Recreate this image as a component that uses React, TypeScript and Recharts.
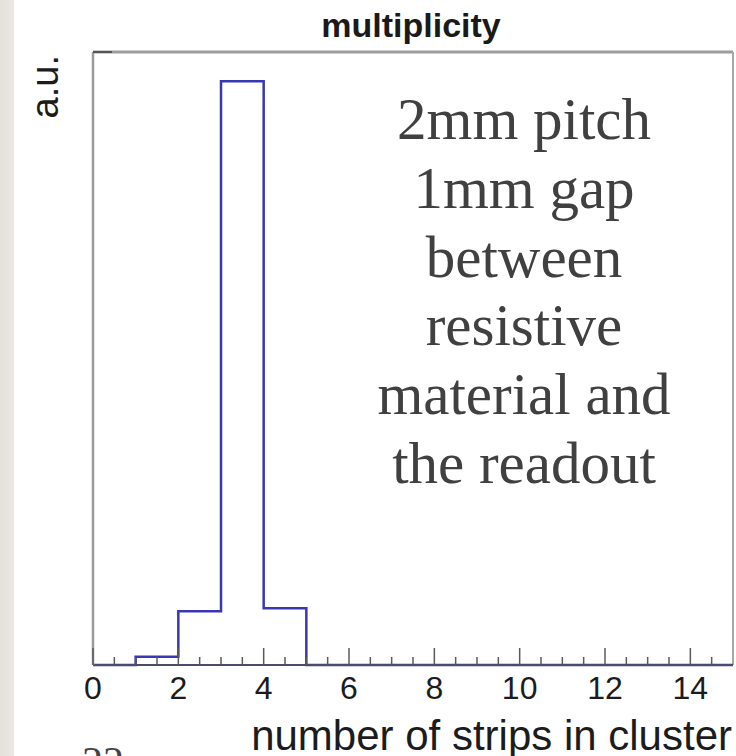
import React from 'react'
import { ComposedChart, Line, ReferenceLine, XAxis, YAxis } from 'recharts'

// histogram of cluster multiplicity, one value per strip-count bin [n, n+1)
const BIN_EDGES = [0, 1, 2, 3, 4, 5, 6, 7, 8, 9, 10, 11, 12, 13, 14, 15]
const BIN_CONTENT = [0, 0.014, 0.092, 1.0, 0.097, 0, 0, 0, 0, 0, 0, 0, 0, 0, 0]
const X_MAX = 15
const Y_MAX = 1.05

const X_TICKS = [
  0, 0.5, 1, 1.5, 2, 2.5, 3, 3.5, 4, 4.5, 5, 5.5, 6, 6.5, 7, 7.5,
  8, 8.5, 9, 9.5, 10, 10.5, 11, 11.5, 12, 12.5, 13, 13.5, 14, 14.5,
]
const X_TICK_LABELS = [0, 2, 4, 6, 8, 10, 12, 14]

const TITLE = 'multiplicity'
const X_TITLE = 'number of strips in cluster'
const Y_TITLE = 'a.u.'
const NOTE_LINES = [
  '2mm pitch',
  '1mm gap',
  'between',
  'resistive',
  'material and',
  'the readout',
]
const PAGE_NUMBER = '22'

const SANS = '"Liberation Sans", Arial, Helvetica, sans-serif'
const SERIF = '"Liberation Serif", "Times New Roman", serif'
const HIST_BLUE = '#3838b4'

const histData = BIN_EDGES.map((edge, i) => ({
  edge,
  content: BIN_CONTENT[i] ?? 0,
}))

function XTick(props: any) {
  const { x, y, payload } = props
  const value = payload.value as number
  const major = X_TICK_LABELS.includes(value)
  return (
    <g>
      <line x1={x} x2={x} y1={y} y2={y - (major ? 17 : 8)} stroke="#5a5a5a" strokeWidth={1.5} />
      {major && (
        <text x={x} y={y + 34} textAnchor="middle" fontSize={32} fontFamily={SANS} fill="#1c1c1c">
          {value}
        </text>
      )}
    </g>
  )
}

function YTick(props: any) {
  const { x, y } = props
  return <line x1={x} x2={x + 19} y1={y} y2={y} stroke="#555" strokeWidth={2} />
}

export default function App() {
  return (
    <div
      style={{
        position: 'absolute',
        left: 0,
        top: 0,
        width: 736,
        height: 756,
        overflow: 'hidden',
        background: '#ffffff',
      }}
    >
      <div
        style={{
          position: 'absolute',
          left: 0,
          top: 0,
          width: 14,
          height: 756,
          background: 'linear-gradient(90deg, #e4e0da, #ebe8e3)',
        }}
      />
      <div style={{ position: 'absolute', left: 0, top: 0 }}>
        <ComposedChart
          width={736}
          height={756}
          data={histData}
          margin={{ top: 52, right: 3, bottom: 1, left: 0 }}
        >
          <XAxis
            dataKey="edge"
            type="number"
            domain={[0, X_MAX]}
            ticks={X_TICKS}
            interval={0}
            height={90}
            tickSize={0}
            tickMargin={0}
            tickLine={false}
            axisLine={{ stroke: '#4a4a6a', strokeWidth: 2 }}
            tick={(p: any) => <XTick {...p} />}
            label={{
              value: X_TITLE,
              position: 'insideBottomRight',
              offset: 5,
              fontSize: 42,
              fontFamily: SANS,
              fill: '#1c1c1c',
              dx: 4,
            }}
          />
          <YAxis
            type="number"
            domain={[0, Y_MAX]}
            ticks={[Y_MAX]}
            width={93}
            tickSize={0}
            tickMargin={0}
            tickLine={false}
            axisLine={{ stroke: '#9a9a9a', strokeWidth: 2.5 }}
            tick={(p: any) => <YTick {...p} />}
            label={{
              content: (p: any) => {
                const vb = p.viewBox || { x: 0, y: 52 }
                const lx = vb.x + 58
                const ly = vb.y + 3
                return (
                  <text
                    x={lx}
                    y={ly}
                    transform={`rotate(-90, ${lx}, ${ly})`}
                    textAnchor="end"
                    fontSize={38}
                    fontFamily={SANS}
                    fill="#1c1c1c"
                  >
                    {Y_TITLE}
                  </text>
                )
              },
            }}
          />
          {/* frame: top and right edges of the pad */}
          <ReferenceLine y={Y_MAX} stroke="#9c9c9c" strokeWidth={3} ifOverflow="visible" />
          <ReferenceLine x={X_MAX} stroke="#a8a8a8" strokeWidth={2} ifOverflow="visible" />
          <Line
            type="stepAfter"
            dataKey="content"
            stroke={HIST_BLUE}
            strokeWidth={2.5}
            strokeLinejoin="miter"
            dot={false}
            activeDot={false}
            isAnimationActive={false}
          />
        </ComposedChart>
      </div>
      <svg
        width={736}
        height={756}
        style={{ position: 'absolute', left: 0, top: 0, pointerEvents: 'none' }}
      >
        <text x={411} y={37} textAnchor="middle" fontSize={34} fontWeight={700} fontFamily={SANS} fill="#1a1a1a">
          {TITLE}
        </text>
        {NOTE_LINES.map((line, i) => (
          <text
            key={line}
            x={524}
            y={139 + i * 68.8}
            textAnchor="middle"
            fontSize={59}
            fontFamily={SERIF}
            fill="#404040"
          >
            {line}
          </text>
        ))}
        <text x={82} y={776} fontSize={42} fontFamily={SERIF} fill="#444">
          {PAGE_NUMBER}
        </text>
      </svg>
    </div>
  )
}
